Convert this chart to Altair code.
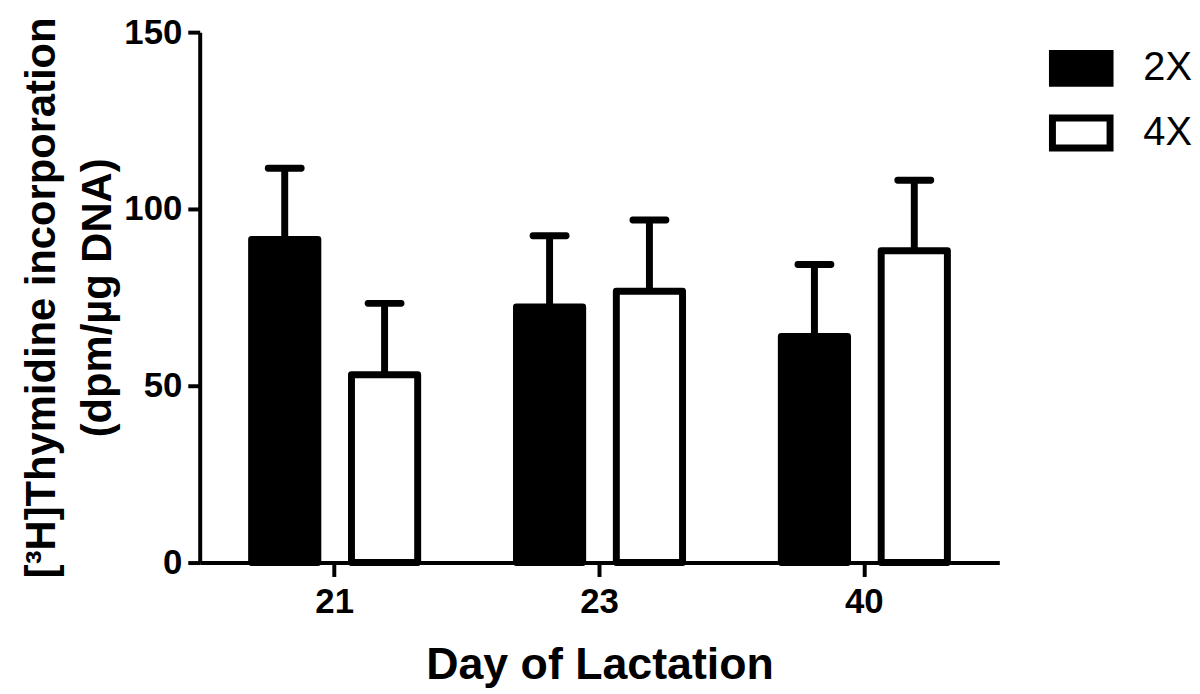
import altair as alt
import pandas as pd

# ---- data ----
days = ["21", "23", "40"]
groups = ["2X", "4X"]
mean_2x = [91.4, 72.3, 63.9]
mean_4x = [53.1, 76.7, 88.2]
sem_2x = [20.1, 20.1, 20.4]
sem_4x = [20.2, 20.2, 19.9]
y_ticks = [0, 50, 100, 150]

rows = []
for i, d in enumerate(days):
    rows.append({"day": d, "group": "2X", "mean": mean_2x[i], "sem": sem_2x[i]})
    rows.append({"day": d, "group": "4X", "mean": mean_4x[i], "sem": sem_4x[i]})
df = pd.DataFrame(rows)
df["upper"] = df["mean"] + df["sem"]

FONT = "Liberation Sans"
Y_TITLE = ["[\u00b3H]Thymidine incorporation", "(dpm/\u00b5g DNA)"]

x_enc = alt.X(
    "day:N", sort=days, title="Day of Lactation",
    scale=alt.Scale(paddingInner=0.373, paddingOuter=0.196),
    axis=alt.Axis(labelAngle=0, labelPadding=8, tickSize=14, titlePadding=24,
                  titleFontSize=45),
)
xoff_enc = alt.XOffset("group:N", sort=groups,
                       scale=alt.Scale(paddingInner=0.337, paddingOuter=0))
y_scale = alt.Scale(domain=[0, 150], nice=False, zero=True)
y_axis = alt.Axis(values=y_ticks, tickSize=12, labelPadding=6, titlePadding=4,
                  titleLineHeight=57, titleFontSize=42)

bars = alt.Chart(df).mark_bar(stroke="black", strokeWidth=7, strokeJoin="round",
                              opacity=1).encode(
    x=x_enc,
    xOffset=xoff_enc,
    y=alt.Y("mean:Q", scale=y_scale, axis=y_axis, title=Y_TITLE),
    fill=alt.Fill(
        "group:N", sort=groups,
        scale=alt.Scale(domain=groups, range=["black", "white"]),
        legend=alt.Legend(
            title=None, orient="none", legendX=855, legendY=4,
            symbolType="M-1,-0.52L1,-0.52L1,0.52L-1,0.52Z",
            symbolSize=3364, symbolStrokeColor="black", symbolStrokeWidth=7,
            symbolOpacity=1, labelFont=FONT, labelFontSize=40,
            labelFontWeight="normal", labelColor="black", labelOffset=30,
            rowPadding=3, padding=0,
        ),
    ),
)

err = alt.Chart(df).mark_rule(color="black", strokeWidth=7, opacity=1).encode(
    x=x_enc,
    xOffset=xoff_enc,
    y=alt.Y("mean:Q", scale=y_scale, axis=y_axis, title=Y_TITLE),
    y2="upper:Q",
)

caps = alt.Chart(df).mark_tick(color="black", thickness=7, size=40, orient="horizontal",
                               cornerRadius=3, opacity=1).encode(
    x=x_enc,
    xOffset=xoff_enc,
    y=alt.Y("upper:Q", scale=y_scale, axis=y_axis, title=Y_TITLE),
)

chart = alt.layer(bars, err, caps).properties(
    width=805, height=534,
    padding={"left": 12, "top": 5, "right": 0, "bottom": 0},
).configure(background="white").configure_view(stroke=None).configure_axis(
    grid=False,
    domainColor="black", domainWidth=4,
    tickColor="black", tickWidth=4,
    labelFont=FONT, labelFontSize=35, labelFontWeight="bold", labelColor="black",
    titleFont=FONT, titleFontSize=40, titleFontWeight="bold", titleColor="black",
)

chart.save("out.html", embed_options={"renderer": "svg", "actions": False})
